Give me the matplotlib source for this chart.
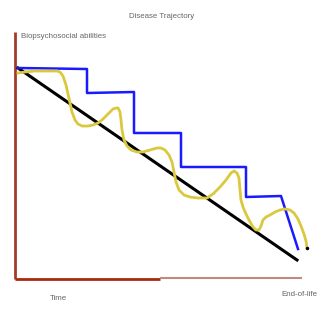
import matplotlib
matplotlib.use("Agg")
import matplotlib.pyplot as plt

# readings, in pixel units (y grows downward)
trend_x = [18, 297]
trend_y = [68, 260]

steps_x = [18, 87, 87, 134, 134, 181, 181, 246, 246, 281, 298]
steps_y = [68, 69, 93, 92, 133, 133, 167, 167, 197, 196, 249]

real_x = [18, 25, 35, 50, 57, 60, 63, 66, 68, 70, 72, 75, 78, 82, 88, 93, 98, 102,
          106, 110, 113, 116, 118, 120, 121, 122, 124, 127, 131, 137, 143, 150, 157,
          161, 165, 169, 172, 174, 176, 179, 184, 190, 198, 207, 213, 220, 226, 231,
          234, 237, 239, 240, 241, 243, 246, 249, 253, 256, 259, 261, 263, 266, 270,
          275, 280, 285, 290, 294, 298, 301, 304, 306, 307]
real_y = [73, 72, 71, 71, 71, 72, 76, 85, 94, 103, 112, 120, 124, 126, 126, 125, 123,
          120, 116, 112, 109, 108, 108, 112, 120, 130, 140, 146, 150, 152, 152, 150,
          148, 148, 150, 155, 162, 172, 182, 190, 195, 197, 198, 198, 194, 187, 180,
          173, 171, 173, 178, 190, 200, 207, 214, 220, 227, 230, 230, 226, 220, 217,
          215, 212, 210, 209, 210, 213, 219, 226, 234, 241, 248]

title = "Disease Trajectory"
ylabel = "Biopsychosocial abilities"
xlabel_left = "Time"
xlabel_right = "End-of-life"

fig = plt.figure(figsize=(3.2, 3.2), dpi=100)
ax = fig.add_axes([0, 0, 1, 1])
ax.set_xlim(0, 320)
ax.set_ylim(320, 0)
ax.axis("off")

# hand drawn axes
ax.plot([15, 15], [32, 279], color="#a33a2a", lw=2, solid_capstyle="butt")
ax.plot([15, 160], [279, 279], color="#a82a10", lw=2, solid_capstyle="butt")
ax.plot([160, 302], [278, 278], color="#c08a80", lw=1.5, solid_capstyle="butt")

ax.plot(trend_x, trend_y, color="black", lw=2.2)
ax.plot(steps_x, steps_y, color="#1a1aff", lw=1.8)
ax.plot(real_x, real_y, color="#dac83e", lw=2.0, solid_joinstyle="round")
ax.plot([307], [248], marker="o", ms=1.5, color="black")

font = ["Liberation Sans", "DejaVu Sans"]
ax.text(162, 16, title, ha="center", va="center", fontsize=5.7, color="#666666", family=font)
ax.text(21, 36, ylabel, ha="left", va="center", fontsize=5.7, color="#666666", family=font)
ax.text(58, 299, xlabel_left, ha="center", va="center", fontsize=5.7, color="#666666", family=font)
ax.text(299, 295, xlabel_right, ha="center", va="center", fontsize=5.7, color="#666666", family=font)

fig.savefig("out.png", dpi=100)
